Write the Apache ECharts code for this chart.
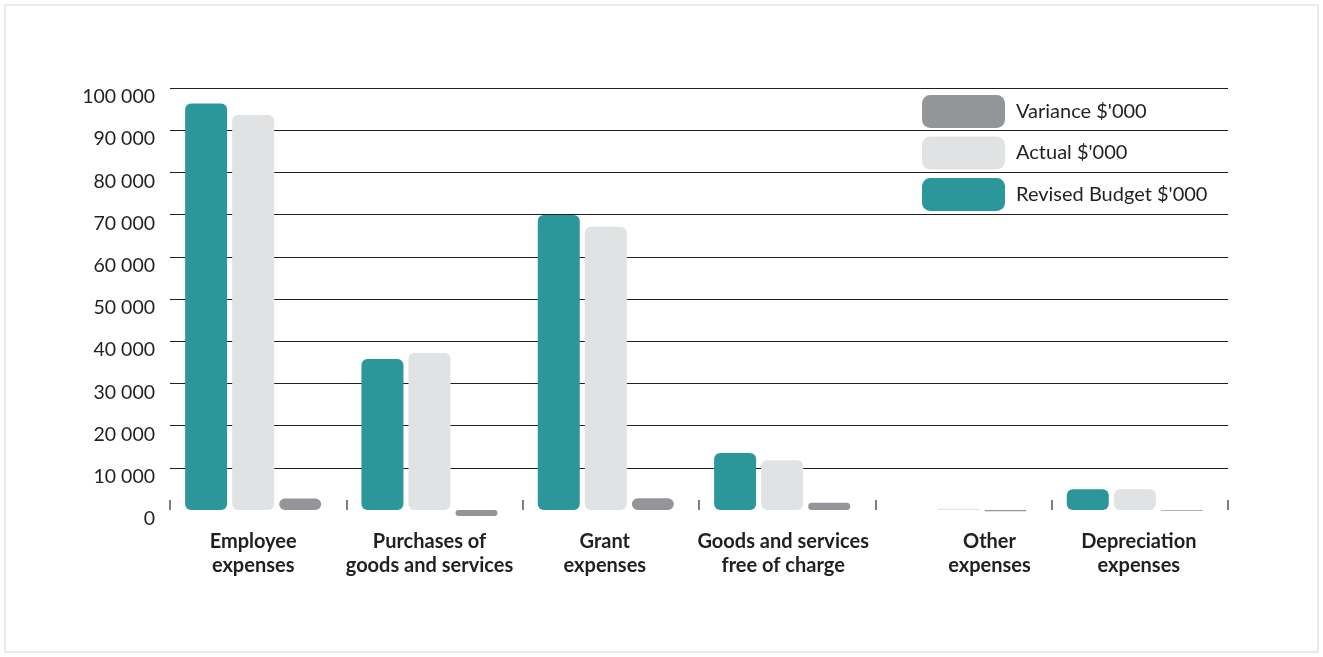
<!DOCTYPE html>
<html>
<head>
<meta charset="utf-8">
<script src="https://cdn.jsdelivr.net/npm/echarts@6/dist/echarts.min.js"></script>
<style>
html,body{margin:0;padding:0;background:#fff;}
#chart{width:1323px;height:657px;}
</style>
</head>
<body>
<div id="chart"></div>
<script>
const categories = [
  "Employee\nexpenses",
  "Purchases of\ngoods and services",
  "Grant\nexpenses",
  "Goods and services\nfree of charge",
  "Other\nexpenses",
  "Depreciation\nexpenses"
];
const revisedBudget = [96300, 35800, 69900, 13500, 0, 4900];
const actual = [93600, 37200, 67100, 11800, 300, 4900];
const variance = [2700, -1400, 2800, 1700, -300, -150];
const seriesNames = ["Revised Budget $'000", "Actual $'000", "Variance $'000"];
const legendOrder = ["Variance $'000", "Actual $'000", "Revised Budget $'000"];
const yTicks = [0, 10000, 20000, 30000, 40000, 50000, 60000, 70000, 80000, 90000, 100000];

const colors = ['#2c979b', '#e1e2e4', '#939598'];
const fmt = v => String(v).replace(/\B(?=(\d{3})+(?!\d))/g, ' ');

const labelPad = [[0, 10, 0, 0], [0, 10, 0, 0], [0, 12, 0, 0], [0, 8, 0, 0], [0, 0, 0, 52], [0, 2, 0, 0]];
const catData = categories.map((c, i) => ({ value: c, textStyle: { padding: labelPad[i] } }));

const gridColors = yTicks.map((t, i) => i === 0 ? 'rgba(0,0,0,0)' : '#231f20');

const series = [revisedBudget, actual, variance].map((d, i) => ({
  name: seriesNames[i],
  type: 'bar',
  data: d,
  barWidth: 42,
  barGap: '12%',
  clip: false,
  itemStyle: { color: colors[i], borderRadius: 6 }
}));
// invisible spacer to nudge the bar group slightly left within each category
series.push({
  name: 'spacer', type: 'bar', data: categories.map(() => null),
  barWidth: 5, silent: true, itemStyle: { color: 'rgba(0,0,0,0)' }
});

const chart = echarts.init(document.getElementById('chart'), null, { renderer: 'canvas' });
chart.setOption({
  animation: false,
  textStyle: { fontFamily: 'Lato, "Noto Sans", sans-serif' },
  graphic: [{
    type: 'rect',
    shape: { x: 5, y: 5, width: 1313, height: 647 },
    style: { fill: 'none', stroke: '#e7ecef', lineWidth: 2 },
    silent: true
  }],
  grid: { left: 170, right: 95, top: 88, bottom: 147 },
  legend: {
    data: legendOrder,
    orient: 'vertical',
    left: 917,
    top: 90,
    itemWidth: 83,
    itemHeight: 33,
    itemGap: 8.5,
    icon: 'roundRect',
    textStyle: { fontSize: 20, color: '#231f20', fontFamily: 'Lato, sans-serif', padding: [2, 0, 0, 6] }
  },
  xAxis: {
    type: 'category',
    data: catData,
    axisLine: { show: false },
    axisTick: { show: true, inside: true, length: 10, lineStyle: { color: '#555', width: 1.5 } },
    axisLabel: {
      interval: 0,
      fontSize: 20, fontWeight: 'bold', color: '#231f20', lineHeight: 24, margin: 20,
      fontFamily: 'Lato, sans-serif'
    }
  },
  yAxis: {
    type: 'value',
    min: 0, max: 100000, interval: 10000,
    axisLine: { show: false },
    axisTick: { show: false },
    axisLabel: {
      formatter: fmt, fontSize: 19.5, color: '#231f20', margin: 15,
      verticalAlign: 'top', lineHeight: 18, fontFamily: 'Lato, sans-serif'
    },
    splitLine: { show: true, lineStyle: { color: gridColors, width: 1.2 } }
  },
  series: series
});
</script>
</body>
</html>
